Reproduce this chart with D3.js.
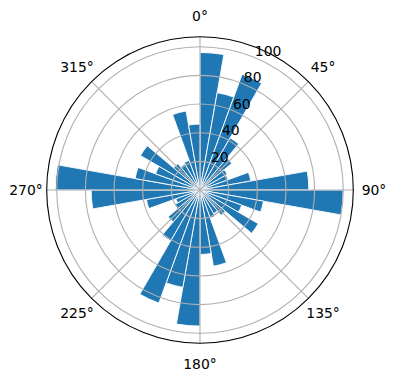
<!DOCTYPE html>
<html>
<head>
<meta charset="utf-8">
<script src="https://cdn.jsdelivr.net/npm/d3@7"></script>
<style>
  body { margin: 0; background: #fff; }
  svg text { font-family: "DejaVu Sans", sans-serif; font-size: 13.9px; fill: #000; }
</style>
</head>
<body>
<div id="chart"></div>
<script>
var w = 396;
var h = 380;

// bar start angles (deg, clockwise from north), each bar is 10 deg wide
var angles = d3.range(0, 360, 10);
var values = [96, 69, 86, 42, 29, 22, 21, 36, 76, 100, 45, 31,
              47, 23, 19, 21, 54, 45, 95, 69, 84, 41, 29, 20,
              18, 38, 76, 101, 46, 33, 48, 24, 21, 22, 56, 46];
var barWidth = 10;

var rTicks = [20, 40, 60, 80, 100];
var thetaTicks = [0, 45, 90, 135, 180, 225, 270, 315];
var rMax = 107;

var cx = 200, cy = 190;
var outerR = 153.3;

var svg = d3.select("#chart").append("svg")
  .attr("width", w)
  .attr("height", h);

var g = svg.append("g").attr("transform", "translate(" + cx + "," + cy + ")");

var r = d3.scaleLinear().domain([0, rMax]).range([0, outerR]);
var rad = function(d) { return d * Math.PI / 180; };

// bars
var arc = d3.arc()
  .innerRadius(0)
  .outerRadius(function(d) { return r(d.v); })
  .startAngle(function(d) { return rad(d.a); })
  .endAngle(function(d) { return rad(d.a + barWidth); });

var barData = angles.map(function(a, i) { return {a: a, v: values[i]}; });

g.selectAll("path.bar")
  .data(barData)
  .enter()
  .append("path")
  .attr("class", "bar")
  .attr("d", arc)
  .attr("fill", "#1f77b4")
  .attr("stroke", "#fff")
  .attr("stroke-width", 0.9)
  .attr("stroke-linejoin", "miter");

// grid drawn over the bars (like matplotlib)
g.selectAll("circle.ring")
  .data(rTicks)
  .enter()
  .append("circle")
  .attr("class", "ring")
  .attr("r", function(d) { return r(d); })
  .attr("fill", "none")
  .attr("stroke", "#b0b0b0")
  .attr("stroke-width", 1.1);

g.selectAll("line.spoke")
  .data(thetaTicks)
  .enter()
  .append("line")
  .attr("class", "spoke")
  .attr("x1", 0).attr("y1", 0)
  .attr("x2", function(d) { return outerR * Math.sin(rad(d)); })
  .attr("y2", function(d) { return -outerR * Math.cos(rad(d)); })
  .attr("stroke", "#b0b0b0")
  .attr("stroke-width", 1.1);

// outer frame
g.append("circle")
  .attr("r", outerR)
  .attr("fill", "none")
  .attr("stroke", "#000")
  .attr("stroke-width", 1.1);

// angle labels
var labelR = 174;
g.selectAll("text.theta")
  .data(thetaTicks)
  .enter()
  .append("text")
  .attr("class", "theta")
  .attr("x", function(d) { return labelR * Math.sin(rad(d)); })
  .attr("y", function(d) { return -labelR * Math.cos(rad(d)); })
  .attr("text-anchor", "middle")
  .attr("dominant-baseline", "central")
  .text(function(d) { return d + "\u00b0"; });

// radial labels at 22.5 deg
var rlabelAngle = rad(22.5);
g.selectAll("text.rlabel")
  .data(rTicks)
  .enter()
  .append("text")
  .attr("class", "rlabel")
  .attr("x", function(d) { return r(d) * Math.sin(rlabelAngle); })
  .attr("y", function(d) { return -r(d) * Math.cos(rlabelAngle) - 2; })
  .attr("text-anchor", "start")
  .text(function(d) { return d; });
</script>
</body>
</html>
